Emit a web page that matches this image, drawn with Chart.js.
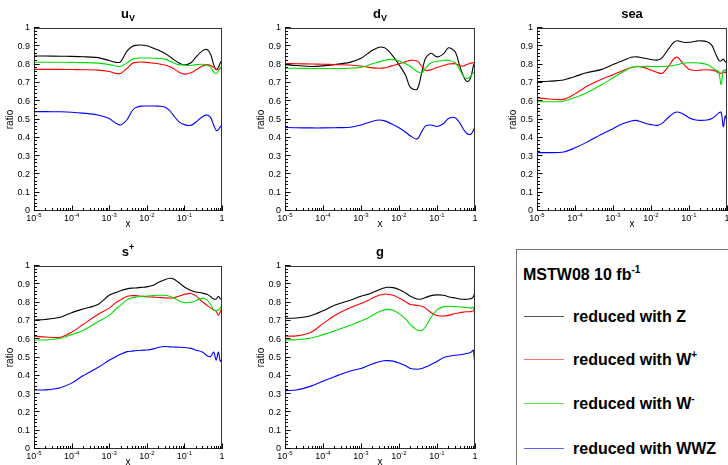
<!DOCTYPE html>
<html>
<head>
<meta charset="utf-8">
<title>MSTW08 reduced uncertainty ratios</title>
<script src="https://cdn.jsdelivr.net/npm/chart.js@4.4.0/dist/chart.umd.min.js"></script>
<style>
  html, body { margin: 0; padding: 0; background: #fff; width: 728px; height: 465px; overflow: hidden; }
  body { position: relative; font-family: "Liberation Sans", Arial, sans-serif; }
  canvas { position: absolute; }
  #legend { position: absolute; left: 516px; top: 249px; width: 240px; height: 240px; border: 1px solid #777; box-sizing: border-box; }
  .lg-line { position: absolute; left: 7px; width: 40px; height: 1px; }
  .lg-text { position: absolute; left: 56px; font: bold 16px "Liberation Sans", Arial, sans-serif; line-height: 16px; white-space: nowrap; color: #000; }
  .lg-text sup { font-size: 10px; position: relative; top: -7px; vertical-align: baseline; line-height: 0; }
</style>
</head>
<body>
<canvas id="c-uv" width="240" height="232" style="left:0px;top:0px"></canvas>
<canvas id="c-dv" width="242" height="232" style="left:251px;top:0px"></canvas>
<canvas id="c-sea" width="242" height="232" style="left:503px;top:0px"></canvas>
<canvas id="c-splus" width="240" height="232" style="left:0px;top:238px"></canvas>
<canvas id="c-g" width="242" height="232" style="left:251px;top:238px"></canvas>

<div id="legend">
  <div class="lg-text" style="left:6px;top:17px">MSTW08 10 fb<sup>-1</sup></div>
  <div class="lg-line" style="top:66px;background:#555"></div>
  <div class="lg-text" style="top:59px">reduced with Z</div>
  <div class="lg-line" style="top:109px;background:#ff7070"></div>
  <div class="lg-text" style="top:102px">reduced with W<sup>+</sup></div>
  <div class="lg-line" style="top:153px;background:#60e060"></div>
  <div class="lg-text" style="top:146px">reduced with W<sup>-</sup></div>
  <div class="lg-line" style="top:198px;background:#6060ff"></div>
  <div class="lg-text" style="top:191px">reduced with WWZ</div>
</div>

<script>
// momentum fraction x, shared by all panels
const xValues = [1e-5, 2e-5, 5e-5, 1e-4, 2e-4, 5e-4, 1e-3, 1.5e-3, 2e-3, 3e-3, 4e-3, 5e-3, 7e-3,
  1e-2, 1.5e-2, 2e-2, 3e-2, 4e-2, 5e-2, 7e-2, 0.1, 0.15, 0.2, 0.3, 0.4, 0.5, 0.6, 0.7, 0.8, 0.9, 1];

// u valence
const uvZ   = [0.847, 0.847, 0.846, 0.845, 0.843, 0.838, 0.822, 0.812, 0.815, 0.875, 0.898, 0.905, 0.907, 0.903, 0.89, 0.88, 0.862, 0.845, 0.83, 0.81, 0.798, 0.81, 0.84, 0.875, 0.882, 0.855, 0.80, 0.772, 0.785, 0.81, 0.82];
const uvWp  = [0.774, 0.774, 0.774, 0.773, 0.772, 0.77, 0.762, 0.752, 0.752, 0.78, 0.805, 0.812, 0.814, 0.812, 0.808, 0.805, 0.798, 0.79, 0.78, 0.76, 0.748, 0.755, 0.77, 0.792, 0.80, 0.795, 0.785, 0.775, 0.772, 0.78, 0.785];
const uvWm  = [0.813, 0.813, 0.813, 0.812, 0.811, 0.808, 0.80, 0.792, 0.79, 0.81, 0.828, 0.834, 0.836, 0.836, 0.835, 0.834, 0.83, 0.82, 0.81, 0.80, 0.797, 0.795, 0.80, 0.802, 0.798, 0.785, 0.76, 0.75, 0.765, 0.785, 0.79];
const uvWWZ = [0.543, 0.543, 0.542, 0.54, 0.535, 0.525, 0.505, 0.48, 0.47, 0.50, 0.545, 0.565, 0.573, 0.574, 0.574, 0.573, 0.568, 0.55, 0.525, 0.49, 0.472, 0.468, 0.485, 0.515, 0.525, 0.51, 0.47, 0.44, 0.445, 0.46, 0.47];

// d valence
const dvZ   = [0.80, 0.795, 0.79, 0.793, 0.80, 0.812, 0.835, 0.86, 0.878, 0.895, 0.893, 0.88, 0.845, 0.80, 0.74, 0.675, 0.665, 0.76, 0.835, 0.862, 0.842, 0.86, 0.892, 0.87, 0.79, 0.735, 0.708, 0.712, 0.74, 0.79, 0.815];
const dvWp  = [0.806, 0.805, 0.803, 0.802, 0.80, 0.798, 0.792, 0.786, 0.782, 0.78, 0.782, 0.786, 0.795, 0.805, 0.815, 0.823, 0.82, 0.79, 0.768, 0.772, 0.785, 0.795, 0.803, 0.805, 0.795, 0.792, 0.80, 0.805, 0.808, 0.81, 0.81];
const dvWm  = [0.78, 0.78, 0.779, 0.779, 0.779, 0.78, 0.785, 0.795, 0.805, 0.815, 0.823, 0.828, 0.827, 0.82, 0.805, 0.79, 0.762, 0.755, 0.78, 0.81, 0.818, 0.822, 0.824, 0.81, 0.77, 0.735, 0.724, 0.728, 0.74, 0.755, 0.762];
const dvWWZ = [0.457, 0.455, 0.454, 0.454, 0.455, 0.458, 0.47, 0.482, 0.49, 0.497, 0.494, 0.487, 0.472, 0.455, 0.43, 0.41, 0.393, 0.435, 0.465, 0.47, 0.462, 0.478, 0.505, 0.51, 0.48, 0.445, 0.425, 0.418, 0.422, 0.44, 0.46];

// sea
const seaZ   = [0.707, 0.709, 0.716, 0.735, 0.755, 0.774, 0.80, 0.815, 0.825, 0.84, 0.843, 0.84, 0.835, 0.828, 0.825, 0.84, 0.89, 0.922, 0.93, 0.922, 0.922, 0.928, 0.93, 0.925, 0.905, 0.86, 0.825, 0.82, 0.83, 0.815, 0.81];
const seaWp  = [0.619, 0.612, 0.61, 0.64, 0.68, 0.72, 0.745, 0.76, 0.77, 0.783, 0.788, 0.788, 0.782, 0.77, 0.756, 0.753, 0.795, 0.832, 0.84, 0.805, 0.775, 0.768, 0.77, 0.772, 0.77, 0.765, 0.755, 0.752, 0.76, 0.755, 0.765];
const seaWm  = [0.597, 0.597, 0.60, 0.62, 0.645, 0.69, 0.728, 0.75, 0.765, 0.785, 0.79, 0.79, 0.79, 0.79, 0.789, 0.79, 0.792, 0.795, 0.80, 0.807, 0.81, 0.81, 0.808, 0.80, 0.785, 0.77, 0.762, 0.69, 0.77, 0.765, 0.79];
const seaWWZ = [0.319, 0.319, 0.322, 0.345, 0.375, 0.42, 0.45, 0.47, 0.48, 0.492, 0.495, 0.49, 0.48, 0.472, 0.468, 0.48, 0.515, 0.535, 0.541, 0.53, 0.51, 0.497, 0.495, 0.497, 0.505, 0.52, 0.535, 0.54, 0.46, 0.52, 0.49];

// s+
const spZ   = [0.705, 0.708, 0.72, 0.745, 0.765, 0.79, 0.84, 0.855, 0.865, 0.875, 0.879, 0.88, 0.883, 0.886, 0.895, 0.91, 0.925, 0.933, 0.93, 0.91, 0.885, 0.866, 0.858, 0.852, 0.845, 0.832, 0.82, 0.82, 0.835, 0.82, 0.818];
const spWp  = [0.617, 0.612, 0.61, 0.638, 0.68, 0.735, 0.77, 0.80, 0.815, 0.835, 0.838, 0.838, 0.835, 0.832, 0.83, 0.828, 0.826, 0.825, 0.825, 0.835, 0.845, 0.85, 0.838, 0.805, 0.785, 0.77, 0.76, 0.752, 0.73, 0.75, 0.775];
const spWm  = [0.596, 0.596, 0.605, 0.625, 0.648, 0.695, 0.73, 0.765, 0.785, 0.815, 0.826, 0.83, 0.833, 0.836, 0.838, 0.84, 0.84, 0.835, 0.828, 0.81, 0.80, 0.802, 0.81, 0.823, 0.815, 0.79, 0.762, 0.755, 0.76, 0.77, 0.787];
const spWWZ = [0.322, 0.323, 0.335, 0.36, 0.40, 0.445, 0.485, 0.505, 0.518, 0.532, 0.535, 0.537, 0.54, 0.541, 0.547, 0.555, 0.56, 0.558, 0.557, 0.556, 0.555, 0.55, 0.54, 0.53, 0.51, 0.505, 0.53, 0.485, 0.53, 0.48, 0.49];

// gluon
const gZ   = [0.714, 0.716, 0.73, 0.755, 0.785, 0.812, 0.835, 0.845, 0.855, 0.87, 0.88, 0.884, 0.882, 0.872, 0.852, 0.835, 0.82, 0.82, 0.828, 0.838, 0.842, 0.84, 0.832, 0.825, 0.82, 0.818, 0.818, 0.82, 0.822, 0.83, 0.86];
const gWp  = [0.617, 0.618, 0.64, 0.685, 0.728, 0.77, 0.795, 0.81, 0.825, 0.84, 0.846, 0.846, 0.84, 0.825, 0.805, 0.79, 0.785, 0.78, 0.77, 0.745, 0.73, 0.727, 0.73, 0.74, 0.745, 0.748, 0.75, 0.75, 0.752, 0.755, 0.77];
const gWm  = [0.596, 0.597, 0.607, 0.625, 0.645, 0.675, 0.70, 0.715, 0.73, 0.75, 0.76, 0.763, 0.758, 0.74, 0.71, 0.68, 0.65, 0.648, 0.668, 0.72, 0.76, 0.778, 0.78, 0.778, 0.776, 0.775, 0.773, 0.772, 0.77, 0.775, 0.71];
const gWWZ = [0.319, 0.322, 0.345, 0.37, 0.395, 0.425, 0.44, 0.455, 0.465, 0.477, 0.482, 0.483, 0.48, 0.47, 0.455, 0.44, 0.436, 0.44, 0.448, 0.462, 0.478, 0.50, 0.507, 0.512, 0.515, 0.518, 0.522, 0.525, 0.53, 0.54, 0.45];

const seriesLabels = ['reduced with Z', 'reduced with W+', 'reduced with W-', 'reduced with WWZ'];
const seriesColors = ['#000000', '#ff0000', '#00dd00', '#0000ff'];
const yTicks = [0, 0.1, 0.2, 0.3, 0.4, 0.5, 0.6, 0.7, 0.8, 0.9, 1];
const xDecades = [-5, -4, -3, -2, -1, 0];

const panels = [
  { canvas: 'c-uv',    title: 'u',   sub: 'V', series: [uvZ, uvWp, uvWm, uvWWZ] },
  { canvas: 'c-dv',    title: 'd',   sub: 'V', series: [dvZ, dvWp, dvWm, dvWWZ] },
  { canvas: 'c-sea',   title: 'sea',           series: [seaZ, seaWp, seaWm, seaWWZ] },
  { canvas: 'c-splus', title: 's',   sup: '+', series: [spZ, spWp, spWm, spWWZ] },
  { canvas: 'c-g',     title: 'g',             series: [gZ, gWp, gWm, gWWZ] }
];

const FONT = '"Liberation Sans", Arial, sans-serif';

// frame, inward ticks, log-axis labels and titles in the ROOT style
const rootFrame = {
  id: 'rootFrame',
  afterDraw(chart, args, opts) {
    const ctx = chart.ctx;
    const a = chart.chartArea;
    const xs = chart.scales.x;
    const ys = chart.scales.y;
    ctx.save();

    ctx.strokeStyle = '#333';
    ctx.lineWidth = 1;
    ctx.strokeRect(Math.round(a.left) + 0.5, Math.round(a.top) + 0.5,
      Math.round(a.right - a.left) - 1, Math.round(a.bottom - a.top) - 1);

    ctx.strokeStyle = '#000';
    ctx.beginPath();
    xDecades.forEach(e => {
      for (let m = 1; m <= 9; m++) {
        const v = m * Math.pow(10, e);
        if (v > 1.0001) break;
        const px = Math.round(xs.getPixelForValue(v)) + 0.5;
        const len = m === 1 ? 5.5 : 3;
        ctx.moveTo(px, a.bottom);
        ctx.lineTo(px, a.bottom - len);
      }
    });
    for (let k = 0; k <= 50; k++) {
      const py = Math.round(ys.getPixelForValue(k / 50)) - 0.5;
      const len = k % 5 === 0 ? 5.5 : 3;
      ctx.moveTo(a.left, py);
      ctx.lineTo(a.left + len, py);
    }
    ctx.stroke();

    // decade labels 10^n
    ctx.fillStyle = '#000';
    ctx.textBaseline = 'alphabetic';
    ctx.textAlign = 'left';
    const base = a.bottom + 10;
    xDecades.forEach(e => {
      const px = xs.getPixelForValue(Math.pow(10, e));
      if (e === 0) {
        ctx.font = '9px ' + FONT;
        const w = ctx.measureText('1').width;
        ctx.fillText('1', px - w / 2, base);
        return;
      }
      ctx.font = '9px ' + FONT;
      const w1 = ctx.measureText('10').width;
      ctx.font = '6px ' + FONT;
      const exp = String(e);
      const w2 = ctx.measureText(exp).width;
      const x0 = px - (w1 + w2) / 2;
      ctx.font = '9px ' + FONT;
      ctx.fillText('10', x0, base);
      ctx.font = '6px ' + FONT;
      ctx.fillText(exp, x0 + w1, base - 4);
    });

    // axis titles
    ctx.font = '10px ' + FONT;
    ctx.textAlign = 'center';
    ctx.fillText('x', (a.left + a.right) / 2, a.bottom + 16);
    ctx.save();
    ctx.translate(a.left - 24, (a.top + a.bottom) / 2);
    ctx.rotate(-Math.PI / 2);
    ctx.textBaseline = 'middle';
    ctx.fillText('ratio', 0, 0);
    ctx.restore();

    // panel title with optional sub/superscript
    ctx.textAlign = 'left';
    ctx.textBaseline = 'alphabetic';
    ctx.font = 'bold 13px ' + FONT;
    const tw = ctx.measureText(opts.title).width;
    const extra = opts.sub || opts.sup || '';
    ctx.font = 'bold 9px ' + FONT;
    const ew = extra ? ctx.measureText(extra).width : 0;
    const tx = (a.left + a.right) / 2 - (tw + ew) / 2;
    const ty = a.top - 10;
    ctx.font = 'bold 13px ' + FONT;
    ctx.fillText(opts.title, tx, ty);
    if (extra) {
      ctx.font = 'bold 9px ' + FONT;
      ctx.fillText(extra, tx + tw, opts.sub ? ty + 3 : ty - 6);
    }
    ctx.restore();
  }
};

panels.forEach(p => {
  const el = document.getElementById(p.canvas);
  const areaWidth = (p.canvas === 'c-uv' || p.canvas === 'c-splus') ? 188 : 190;
  new Chart(el, {
    type: 'line',
    data: {
      datasets: p.series.map((ys, i) => ({
        label: seriesLabels[i],
        data: xValues.map((x, k) => ({ x: x, y: ys[k] })),
        borderColor: seriesColors[i],
        borderWidth: 1.1,
        pointRadius: 0,
        fill: false,
        tension: 0.3,
        order: 4 - i
      }))
    },
    options: {
      responsive: false,
      animation: false,
      devicePixelRatio: 1,
      layout: { padding: { top: 28, right: el.width - 34 - areaWidth, left: 0, bottom: 0 } },
      plugins: {
        legend: { display: false },
        tooltip: { enabled: false },
        rootFrame: { title: p.title, sub: p.sub, sup: p.sup }
      },
      scales: {
        x: {
          type: 'logarithmic',
          min: 1e-5,
          max: 1,
          grid: { display: false, drawTicks: false },
          border: { display: false },
          ticks: { display: false },
          afterFit: s => { s.height = 21; }
        },
        y: {
          min: 0,
          max: 1,
          grid: { display: false, drawTicks: false },
          border: { display: false },
          afterBuildTicks: s => { s.ticks = yTicks.map(v => ({ value: v })); },
          ticks: {
            padding: 4,
            color: '#000',
            font: { family: FONT, size: 9 },
            callback: v => String(Math.round(v * 10) / 10)
          },
          afterFit: s => { s.width = 34; }
        }
      }
    },
    plugins: [rootFrame]
  });
});
</script>
</body>
</html>
